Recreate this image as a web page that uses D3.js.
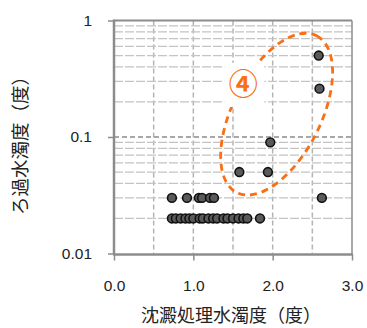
<!DOCTYPE html>
<html>
<head>
<meta charset="utf-8">
<script src="https://cdn.jsdelivr.net/npm/d3@7"></script>
<style>
  body { margin: 0; background: #fff; }
  text { font-family: "Liberation Sans", "Noto Sans CJK JP", sans-serif; fill: #222; }
  .jp { font-family: "Noto Sans CJK JP", sans-serif; }
</style>
</head>
<body>
<div id="chart"></div>
<script>
// 沈澱処理水濁度 (x) と ろ過水濁度 (y)
const sedimentTurbidity = [2.58, 2.59, 1.97, 1.58, 1.94, 2.62,
  0.73, 0.92, 1.07, 1.11, 1.21, 1.26,
  0.73, 0.78, 0.84, 0.90, 0.95, 1.00, 1.08, 1.12, 1.19, 1.25, 1.30, 1.38, 1.43, 1.50, 1.57, 1.63, 1.68, 1.84];
const filteredTurbidity = [0.5, 0.26, 0.09, 0.05, 0.05, 0.03,
  0.03, 0.03, 0.03, 0.03, 0.03, 0.03,
  0.02, 0.02, 0.02, 0.02, 0.02, 0.02, 0.02, 0.02, 0.02, 0.02, 0.02, 0.02, 0.02, 0.02, 0.02, 0.02, 0.02, 0.02];
const xTicks = [0, 1, 2, 3];
const xGrid = [0.5, 1, 1.5, 2, 2.5];
const yTicks = [0.01, 0.1, 1];
const yTickLabels = ["0.01", "0.1", "1"];
const yMinor = [0.02, 0.03, 0.04, 0.05, 0.06, 0.07, 0.08, 0.09, 0.2, 0.3, 0.4, 0.5, 0.6, 0.7, 0.8, 0.9];
// group ④ annotation (data coords of ellipse centre and label)
const groupCentre = [2.05, 0.157];
const groupLabel = [1.63, 0.28];

const w = 367, h = 328;
const pLeft = 114, pRight = 352, pTop = 20.5, pBottom = 253.5;

const svg = d3.select("#chart").append("svg")
  .attr("width", w).attr("height", h);

const x = d3.scaleLinear().domain([0, 3]).range([pLeft, pRight]);
const y = d3.scaleLog().domain([0.01, 1]).range([pBottom, pTop]);

// grid
svg.selectAll(".vgrid").data(xGrid).enter().append("line")
  .attr("x1", d => x(d)).attr("x2", d => x(d))
  .attr("y1", pTop).attr("y2", pBottom)
  .attr("stroke", "#b4b4b4").attr("stroke-width", 1.5)
  .attr("stroke-dasharray", "5,3");

svg.selectAll(".hgrid").data(yMinor).enter().append("line")
  .attr("x1", pLeft).attr("x2", pRight)
  .attr("y1", d => y(d)).attr("y2", d => y(d))
  .attr("stroke", "#c4c4c4").attr("stroke-width", 1.3)
  .attr("stroke-dasharray", "9,2");

svg.append("line")
  .attr("x1", pLeft).attr("x2", pRight)
  .attr("y1", y(0.1)).attr("y2", y(0.1))
  .attr("stroke", "#8c8c8c").attr("stroke-width", 1.5)
  .attr("stroke-dasharray", "5,3");

// frame
svg.append("line").attr("x1", pLeft).attr("x2", pRight).attr("y1", pTop).attr("y2", pTop)
  .attr("stroke", "#8c8c8c").attr("stroke-width", 2);
svg.append("line").attr("x1", pRight).attr("x2", pRight).attr("y1", pTop).attr("y2", pBottom + 1)
  .attr("stroke", "#8c8c8c").attr("stroke-width", 1.5);

// axes
const xAxis = d3.axisBottom(x).tickValues(xTicks).tickSize(6).tickFormat(d3.format(".1f"));
const gx = svg.append("g").attr("transform", "translate(0," + (pBottom + 1) + ")").call(xAxis);
gx.select(".domain").attr("stroke", "#8c8c8c").attr("stroke-width", 2.5)
  .attr("d", "M" + (pLeft - 1) + ",0H" + (pRight + 1));
gx.selectAll(".tick line").attr("stroke", "#8c8c8c").attr("stroke-width", 1.5);
gx.selectAll(".tick text").attr("font-size", 15.5).attr("dy", 0).attr("y", 36)
  .attr("font-family", "Liberation Sans").attr("fill", "#222");

const yAxis = d3.axisLeft(y).tickValues(yTicks).tickSize(6)
  .tickFormat((d, i) => yTickLabels[i]);
const gy = svg.append("g").attr("transform", "translate(" + pLeft + ",0)").call(yAxis);
gy.select(".domain").attr("stroke", "#8c8c8c").attr("stroke-width", 2.5)
  .attr("d", "M0," + (pTop - 1) + "V" + (pBottom + 1));
gy.selectAll(".tick line").attr("stroke", "#8c8c8c").attr("stroke-width", 1.5);
gy.selectAll(".tick text").attr("font-size", 15.5).attr("x", -22)
  .attr("font-family", "Liberation Sans").attr("fill", "#222");

// ellipse annotation
const ec = [x(groupCentre[0]), y(groupCentre[1])];
svg.append("ellipse")
  .attr("cx", 0).attr("cy", 0).attr("rx", 88).attr("ry", 44)
  .attr("transform", "translate(" + ec[0] + "," + ec[1] + ") rotate(-63)")
  .attr("fill", "none").attr("stroke", "#fa6e14").attr("stroke-width", 2.8)
  .attr("stroke-dasharray", "7,5");

svg.append("rect")
  .attr("x", x(groupLabel[0]) - 19).attr("y", y(groupLabel[1]) - 22)
  .attr("width", 40).attr("height", 44).attr("fill", "#fff");
svg.append("text").attr("class", "jp")
  .attr("x", x(groupLabel[0])).attr("y", y(groupLabel[1]) + 10)
  .attr("text-anchor", "middle").attr("font-size", 29).attr("font-weight", "bold")
  .style("fill", "#fa6e14").text("④");

// points
svg.selectAll("circle").data(sedimentTurbidity).enter().append("circle")
  .attr("cx", d => x(d))
  .attr("cy", (d, i) => y(filteredTurbidity[i]))
  .attr("r", 4.4)
  .attr("fill", "#5a5a5a").attr("stroke", "#111").attr("stroke-width", 1.6);

// titles
svg.append("text").attr("class", "jp")
  .attr("x", 231).attr("y", 322).attr("text-anchor", "middle")
  .attr("font-size", 18).text("沈澱処理水濁度（度）");
svg.append("text").attr("class", "jp")
  .attr("transform", "translate(27,141) rotate(-90)")
  .attr("text-anchor", "middle").attr("font-size", 18.5).text("ろ過水濁度（度）");
</script>
</body>
</html>
